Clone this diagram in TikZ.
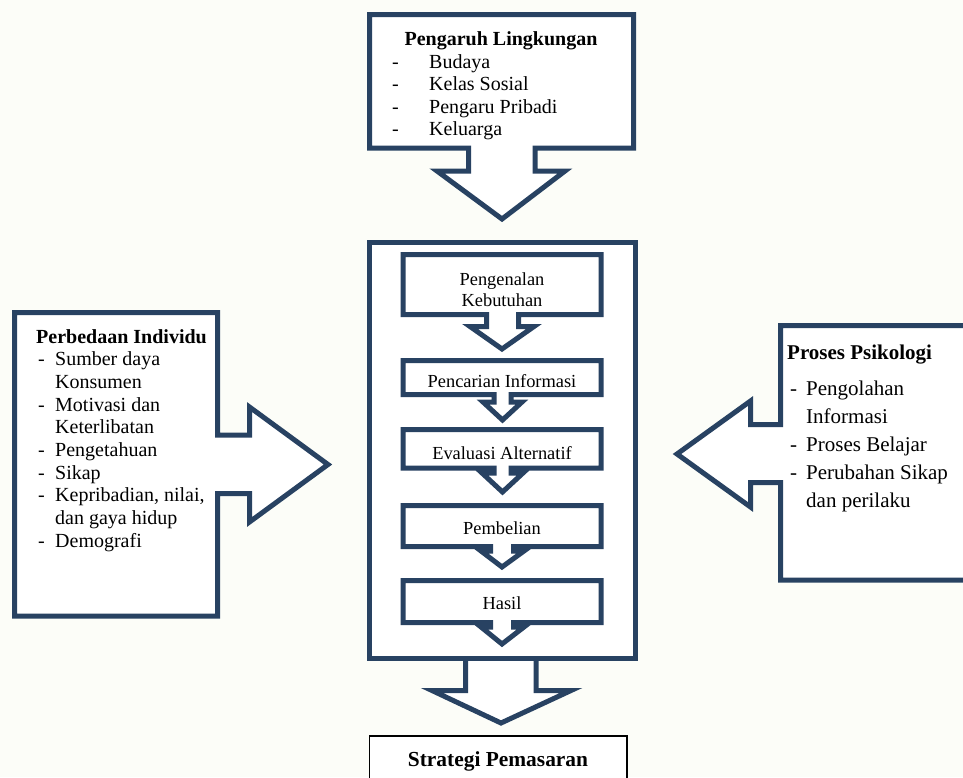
\documentclass[tikz,border=0pt]{standalone}
\usepackage{fontspec}
\setmainfont{Liberation Serif}
\definecolor{navy}{RGB}{40,66,98}
\definecolor{bgc}{RGB}{252,253,248}
\newcommand\fsTw{\fontsize{20}{23}\selectfont}
\newcommand\fsIn{\fontsize{18.4}{21}\selectfont}
\newcommand\fsRt{\fontsize{21}{24}\selectfont}
\begin{document}
\begin{tikzpicture}[x=1pt,y=-1pt,
  shp/.style={draw=navy,line width=5pt,line join=miter,fill=white},
  lt/.style={inner sep=0pt,anchor=base west},
  ct/.style={inner sep=0pt,anchor=base}]
\fill[bgc] (0,0) rectangle (963,777);
\useasboundingbox (0,0) rectangle (963,777);

% top callout
\draw[shp] (369.5,14.5) -- (633.5,14.5) -- (633.5,148) -- (535,148) -- (535,171) -- (565,171) -- (502,219) -- (437,171) -- (468.5,171) -- (468.5,148) -- (369.5,148) -- cycle;
\node[ct,font=\fsTw\bfseries] (tt) at (501,45) {Pengaruh Lingkungan};
\foreach \t [count=\i from 0] in {Budaya,Kelas Sosial,Pengaru Pribadi,Keluarga}
  \node[lt,font=\fsTw] (top\i) at (392,68+22.5*\i) {\makebox[37pt][l]{-}\t};

% main box
\draw[shp] (369.5,242.5) rectangle (635.5,658.5);
\draw[shp] (465.5,658.5) -- (465.5,690.5) -- (432,690.5) -- (501,723) -- (571,690.5) -- (536,690.5) -- (536,658.5);
\draw[navy,line width=5pt] (369.5,658.5) -- (635.5,658.5);

% inner boxes with arrows
\draw[shp] (403,254.5) -- (601,254.5) -- (601,314.5) -- (518.5,314.5) -- (518.5,326.5) -- (534,326.5) -- (502,349) -- (470,326.5) -- (486.5,326.5) -- (486.5,314.5) -- (403,314.5) -- cycle;
\node[ct,font=\fsIn] (b1a) at (502,285) {Pengenalan};
\node[ct,font=\fsIn] (b1b) at (502,306) {Kebutuhan};

\draw[shp] (403,360.5) -- (601,360.5) -- (601,394.5) -- (511,394.5) -- (511,402) -- (522,402) -- (502.5,420) -- (483,402) -- (494,402) -- (494,394.5) -- (403,394.5) -- cycle;
\node[ct,font=\fsIn] (b2) at (502,387) {Pencarian Informasi};

\draw[shp] (403,429.5) -- (601,429.5) -- (601,468) -- (511,468) -- (511,473) -- (523,473) -- (502.5,492) -- (482,473) -- (494,473) -- (494,468) -- (403,468) -- cycle;
\node[ct,font=\fsIn] (b3) at (502,459) {Evaluasi Alternatif};

\draw[shp] (403,505.5) -- (601,505.5) -- (601,546.5) -- (513.5,546.5) -- (513.5,551) -- (524,551) -- (502,567) -- (481,551) -- (490.5,551) -- (490.5,546.5) -- (403,546.5) -- cycle;
\node[ct,font=\fsIn] (b4) at (502,534) {Pembelian};

\draw[shp] (403,580.5) -- (601,580.5) -- (601,622.5) -- (513.5,622.5) -- (513.5,627) -- (524,627) -- (502,644) -- (481,627) -- (490.5,627) -- (490.5,622.5) -- (403,622.5) -- cycle;
\node[ct,font=\fsIn] (b5) at (502,609) {Hasil};

% left callout
\draw[shp] (14.5,312.5) -- (217.5,312.5) -- (217.5,435) -- (249.5,435) -- (249.5,407) -- (328,464.5) -- (249.5,522) -- (249.5,493.5) -- (217.5,493.5) -- (217.5,616) -- (14.5,616) -- cycle;
\node[lt,font=\fsTw\bfseries] (lt) at (36,343) {Perbedaan Individu};
\foreach \t [count=\i from 1] in {\makebox[17pt][l]{-}Sumber daya,\hspace*{17pt}Konsumen,\makebox[17pt][l]{-}Motivasi dan,\hspace*{17pt}Keterlibatan,\makebox[17pt][l]{-}Pengetahuan,\makebox[17pt][l]{-}Sikap,\makebox[17pt][l]{-}Kepribadian{,} nilai{,},\hspace*{17pt}dan gaya hidup,\makebox[17pt][l]{-}Demografi}
  \node[lt,font=\fsTw] (left\i) at (38,343+22.7*\i) {\t};

% right callout
\draw[shp] (780.5,325.5) -- (975,325.5) -- (975,580) -- (780.5,580) -- (780.5,482.5) -- (750.5,482.5) -- (750.5,507) -- (677,454) -- (750.5,401) -- (750.5,424.5) -- (780.5,424.5) -- cycle;
\node[lt,font=\fsRt\bfseries] (rt) at (787,359) {Proses Psikologi};
\foreach \t [count=\i from 0] in {\makebox[16pt][l]{-}Pengolahan,\hspace*{16pt}Informasi,\makebox[16pt][l]{-}Proses Belajar,\makebox[16pt][l]{-}Perubahan Sikap,\hspace*{16pt}dan perilaku}
  \node[lt,font=\fsRt] (right\i) at (790,395+28.2*\i) {\t};

% bottom box
\draw[black,line width=1.5pt,fill=white] (369.5,736) rectangle (627,800);
\node[ct,font=\fontsize{21.4}{24}\selectfont\bfseries] (sp) at (498,766) {Strategi Pemasaran};
\end{tikzpicture}
\end{document}
